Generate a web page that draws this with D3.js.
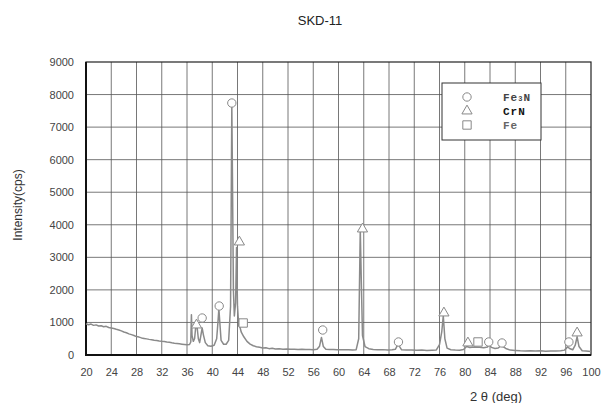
<!DOCTYPE html>
<html><head><meta charset="utf-8">
<script src="https://cdn.jsdelivr.net/npm/d3@7"></script>
<style>body{margin:0;background:#fff}svg{display:block}</style>
</head><body>
<svg id="c" width="601" height="403"></svg>
<script>
const title = "SKD-11";
const yLabel = "Intensity(cps)";
const xLabel = "2 θ (deg)";
const xTicks = [20,24,28,32,36,40,44,48,52,56,60,64,68,72,76,80,84,88,92,96,100];
const yTicks = [0,1000,2000,3000,4000,5000,6000,7000,8000,9000];
const spectrumDeg = [20.0,20.4,20.8,21.2,21.6,22.0,22.4,22.8,23.2,23.6,24.0,24.4,24.8,25.2,25.6,26.0,26.4,26.8,27.2,27.6,28.0,28.4,28.8,29.2,29.6,30.0,30.4,30.8,31.2,31.6,32.0,32.4,32.8,33.2,33.6,34.0,34.4,34.8,35.2,35.6,36.0,36.4,36.6,36.7,36.8,37.0,37.2,37.4,37.6,37.8,38.0,38.2,38.4,38.6,38.9,39.3,39.8,40.3,40.7,40.9,41.05,41.2,41.4,41.8,42.2,42.6,42.9,43.0,43.1,43.2,43.35,43.5,43.7,43.85,44.0,44.2,44.4,44.6,45.0,45.5,46.0,46.5,47.0,47.5,48.0,48.5,49.0,49.5,50.0,50.6,51.2,51.8,52.4,53.0,53.6,54.2,54.8,55.4,56.0,56.6,57.0,57.3,57.6,58.0,58.6,59.2,59.8,60.4,61.0,61.6,62.2,62.8,63.2,63.45,63.6,63.8,64.2,64.8,65.5,66.2,67.0,67.8,68.5,69.0,69.4,69.6,70.0,70.8,71.6,72.4,73.2,74.0,74.8,75.5,76.0,76.35,76.6,76.85,77.2,77.8,78.5,79.2,79.8,80.3,80.8,81.5,82.3,83.0,83.6,83.9,84.2,84.8,85.3,85.7,86.0,86.5,87.2,88.0,88.8,89.6,90.4,91.2,92.0,92.8,93.6,94.4,95.2,95.8,96.3,96.6,97.1,97.5,97.8,98.1,98.6,99.2,99.6,100.0];
const spectrumCps = [960,930,950,910,925,890,900,870,880,845,830,815,790,770,740,705,685,650,625,600,565,550,525,510,495,480,470,455,445,430,420,412,400,392,375,362,352,342,332,322,312,322,400,1240,600,420,500,900,860,500,380,600,830,620,380,285,270,300,500,1000,1420,1000,450,330,330,450,1500,4500,7650,5500,2000,1200,1600,3300,1500,900,850,700,560,420,335,285,255,235,215,225,195,205,185,190,180,185,175,180,170,178,168,172,165,175,270,540,260,175,168,172,160,165,158,162,155,165,500,3850,2400,600,260,195,170,160,165,150,158,175,320,280,160,150,155,145,150,140,148,155,320,700,1200,500,210,160,150,145,170,260,230,245,235,225,245,330,235,200,215,280,265,200,150,140,130,125,132,120,128,118,125,120,130,150,250,200,160,300,560,260,130,120,115,110];
const fe3nDeg = [43.1,41.1,38.4,57.5,69.5,83.8,85.9,96.5];
const fe3nCps = [7740,1505,1136,768,400,400,369,400];
const crnDeg = [37.5,44.3,63.8,76.7,80.5,97.8];
const crnCps = [921,3470,3870,1290,369,676];
const feDeg = [44.9,82.1];
const feCps = [983,400];
const legendNames = ["Fe3N","CrN","Fe"];

const svg = d3.select("#c");
const m = {l:86, r:591, t:62, b:355};
const x = d3.scaleLinear().domain([20,100]).range([m.l,m.r]);
const y = d3.scaleLinear().domain([0,9000]).range([m.b,m.t]);

// grid
svg.append("g").selectAll("line").data(yTicks.slice(1,-1)).join("line")
  .attr("x1",m.l).attr("x2",m.r).attr("y1",d=>y(d)).attr("y2",d=>y(d))
  .attr("stroke","#555").attr("stroke-width",0.8);
svg.append("g").selectAll("line").data(xTicks.slice(1,-1)).join("line")
  .attr("y1",m.t).attr("y2",m.b).attr("x1",d=>x(d)).attr("x2",d=>x(d))
  .attr("stroke","#555").attr("stroke-width",0.8);

// axes
const xa = svg.append("g").attr("transform",`translate(0,${m.b})`)
  .call(d3.axisBottom(x).tickValues(xTicks).tickFormat(d3.format("d")).tickSize(0).tickPadding(13));
const ya = svg.append("g").attr("transform",`translate(${m.l},0)`)
  .call(d3.axisLeft(y).tickValues(yTicks).tickFormat(d3.format("d")).tickSize(0).tickPadding(12));
[xa,ya].forEach(a=>{a.select(".domain").remove();
  a.selectAll("text").attr("font-family","Liberation Sans, Arial, sans-serif").attr("font-size",11).attr("fill","#444");});

// frame
svg.append("rect").attr("x",m.l).attr("y",m.t).attr("width",m.r-m.l).attr("height",m.b-m.t)
  .attr("fill","none").attr("stroke","#222").attr("stroke-width",1.2);
svg.append("line").attr("x1",m.l).attr("x2",m.l).attr("y1",m.t).attr("y2",m.b+1).attr("stroke","#111").attr("stroke-width",2);
svg.append("line").attr("x1",m.l).attr("x2",m.r).attr("y1",m.b).attr("y2",m.b).attr("stroke","#111").attr("stroke-width",2);

// spectrum
const pts = spectrumDeg.map((d,i)=>[d,spectrumCps[i]]);
svg.append("path").datum(pts)
  .attr("d",d3.line().x(d=>x(d[0])).y(d=>y(d[1])))
  .attr("fill","none").attr("stroke","#8a8a8a").attr("stroke-width",1.5).attr("stroke-linejoin","round");

// markers
const sym = {circle:d3.symbolCircle, tri:d3.symbolTriangle, sq:d3.symbolSquare};
const size = {circle:55, tri:45, sq:70};
function markers(xs,ys,t){
  svg.append("g").selectAll("path").data(xs.map((d,i)=>[d,ys[i]])).join("path")
    .attr("transform",d=>`translate(${x(d[0])},${y(d[1])})`)
    .attr("d",d3.symbol().type(sym[t]).size(size[t]))
    .attr("fill","#fff").attr("stroke","#888").attr("stroke-width",1);
}
markers(fe3nDeg,fe3nCps,"circle");
markers(crnDeg,crnCps,"tri");
markers(feDeg,feCps,"sq");

// legend
const lg = svg.append("g");
lg.append("rect").attr("x",442).attr("y",83).attr("width",99).attr("height",57)
  .attr("fill","#fff").attr("stroke","#333").attr("stroke-width",1);
const types = ["circle","tri","sq"];
const cols = ["#444","#111","#666"];
types.forEach((t,i)=>{
  const cy = 97 + i*14;
  lg.append("path").attr("transform",`translate(467,${cy})`)
    .attr("d",d3.symbol().type(sym[t]).size(size[t]))
    .attr("fill","#fff").attr("stroke","#888").attr("stroke-width",1);
  const tx = lg.append("text").attr("x",503).attr("y",cy+4)
    .attr("font-family","Liberation Mono, DejaVu Sans Mono, monospace").attr("font-weight","bold")
    .attr("font-size",11).attr("letter-spacing",1).attr("fill",cols[i]);
  if(i===0){
    tx.append("tspan").text("Fe");
    tx.append("tspan").attr("font-size",7).text("3");
    tx.append("tspan").text("N");
  } else tx.text(legendNames[i]);
});

// titles
svg.append("text").attr("x",320).attr("y",25).attr("text-anchor","middle")
  .attr("font-family","Liberation Sans, Arial, sans-serif").attr("font-size",13).attr("fill","#222").text(title);
svg.append("text").attr("transform","translate(22,205) rotate(-90)").attr("text-anchor","middle")
  .attr("font-family","Liberation Sans, Arial, sans-serif").attr("font-size",12).attr("fill","#333").text(yLabel);
svg.append("text").attr("x",496).attr("y",401).attr("text-anchor","middle")
  .attr("font-family","Liberation Sans, Arial, sans-serif").attr("font-size",13).attr("fill","#333").text(xLabel);
</script>
</body></html>
